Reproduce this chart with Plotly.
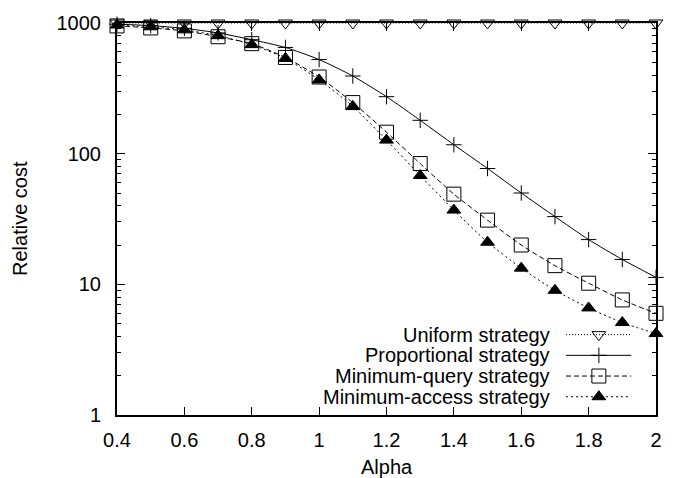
import plotly.graph_objects as go

alpha = [0.4, 0.5, 0.6, 0.7, 0.8, 0.9, 1.0, 1.1, 1.2, 1.3, 1.4, 1.5, 1.6, 1.7, 1.8, 1.9, 2.0]
uniform = [1000, 1000, 1000, 1000, 1000, 1000, 1000, 1000, 1000, 1000, 1000, 1000, 1000, 1000, 1000, 1000, 1000]
proportional = [980, 955, 910, 840, 745, 650, 525, 393, 273, 180, 117, 77, 50, 33, 22, 15.5, 11.3]
min_query = [950, 917, 870, 785, 695, 545, 386, 246, 146, 84, 49, 31, 20, 13.9, 10.2, 7.6, 6.0]
min_access = [965, 935, 886, 800, 683, 536, 367, 230, 127, 68, 37, 21, 13.3, 9.0, 6.6, 5.1, 4.2]

series_names = ["Uniform strategy", "Proportional strategy", "Minimum-query strategy", "Minimum-access strategy"]
series_values = [uniform, proportional, min_query, min_access]
x_ticks = [0.4, 0.6, 0.8, 1.0, 1.2, 1.4, 1.6, 1.8, 2.0]
x_tick_labels = ["0.4", "0.6", "0.8", "1", "1.2", "1.4", "1.6", "1.8", "2"]
y_ticks = [1, 10, 100, 1000]
y_tick_labels = ["1", "10", "100", "1000"]
y_minor_ticks = [2, 3, 4, 5, 6, 7, 8, 9, 20, 30, 40, 50, 60, 70, 80, 90, 200, 300, 400, 500, 600, 700, 800, 900]

styles = [
    dict(symbol="triangle-down-open", size=12, dash="1px,2px", lw=1),
    dict(symbol="cross-thin-open", size=11, dash="solid", lw=1),
    dict(symbol="square-open", size=14, dash="5px,3px", lw=1),
    dict(symbol="triangle-up", size=12, dash="2px,3px", lw=1),
]

FONT = "Liberation Sans, Arial, sans-serif"
FS = 20

fig = go.Figure()
for name, vals, st in zip(series_names, series_values, styles):
    fig.add_trace(go.Scatter(
        x=alpha, y=vals, name=name, mode="lines+markers",
        line=dict(color="black", width=st["lw"], dash=st["dash"], shape="spline", smoothing=0.6),
        marker=dict(symbol=st["symbol"], size=st["size"], color="black",
                    line=dict(color="black", width=1)),
        cliponaxis=False, showlegend=False,
    ))

# invisible trace carrying the minor-tick overlay axis
fig.add_trace(go.Scatter(x=[alpha[0]], y=[y_ticks[0]], xaxis="x", yaxis="y3",
                         mode="markers", marker=dict(opacity=0), showlegend=False,
                         hoverinfo="skip"))

# custom legend (text left, sample right) on an overlay axis in [0,1]
leg_rows_y = [0.2050, 0.1522, 0.0994, 0.0466]
leg_text_x = 0.8056
leg_line_x = [0.833, 0.954]
leg_mark_x = 0.894
for name, st, ry in zip(series_names, styles, leg_rows_y):
    fig.add_trace(go.Scatter(
        x=leg_line_x, y=[ry, ry], mode="lines", xaxis="x2", yaxis="y2",
        line=dict(color="black", width=st["lw"], dash=st["dash"]),
        showlegend=False, hoverinfo="skip",
    ))
    fig.add_trace(go.Scatter(
        x=[leg_mark_x], y=[ry], mode="markers", xaxis="x2", yaxis="y2",
        marker=dict(symbol=st["symbol"], size=st["size"], color="black",
                    line=dict(color="black", width=1)),
        showlegend=False, hoverinfo="skip", cliponaxis=False,
    ))
    fig.add_annotation(text=name, x=leg_text_x, y=ry, xref="x2", yref="y2",
                       xanchor="right", yanchor="middle", showarrow=False,
                       borderpad=0,
                       font=dict(family=FONT, size=FS, color="black"))

fig.update_layout(
    width=674, height=478,
    margin=dict(l=117, r=17, t=17, b=63),
    paper_bgcolor="white", plot_bgcolor="white",
    font=dict(family=FONT, size=FS, color="black"),
    xaxis=dict(range=[0.4, 2.0], tickvals=x_ticks, ticktext=x_tick_labels,
               ticks="inside", ticklen=8, tickwidth=1.2, tickcolor="black",
               showline=True, linewidth=2, linecolor="black", mirror="ticks",
               showgrid=False, zeroline=False, ticklabelstandoff=6),
    yaxis=dict(type="log", range=[0, 3], tickvals=y_ticks, ticktext=y_tick_labels,
               ticks="inside", ticklen=8, tickwidth=1.2, tickcolor="black",
               showline=True, linewidth=2, linecolor="black", mirror="ticks",
               showgrid=False, zeroline=False, ticklabelstandoff=10),
    yaxis3=dict(type="log", range=[0, 3], overlaying="y", anchor="x", side="left",
                tickvals=y_minor_ticks, showticklabels=False,
                ticks="inside", ticklen=4, tickwidth=1.2, tickcolor="black",
                showline=True, linewidth=2, linecolor="black", mirror="ticks",
                showgrid=False, zeroline=False, fixedrange=True),
    xaxis2=dict(range=[0, 1], overlaying="x", visible=False, fixedrange=True),
    yaxis2=dict(range=[0, 1], overlaying="y", visible=False, fixedrange=True),
    annotations=list(fig.layout.annotations) + [
        dict(text="Relative cost", x=0, y=0.5, xref="paper", yref="paper",
             textangle=-90, xanchor="center", yanchor="middle", xshift=-97,
             showarrow=False, font=dict(family=FONT, size=FS)),
        dict(text="Alpha", x=0.5, y=0, xref="paper", yref="paper",
             xanchor="center", yanchor="middle", yshift=-52,
             showarrow=False, font=dict(family=FONT, size=FS)),
    ],
)

fig.write_html("out.html")
